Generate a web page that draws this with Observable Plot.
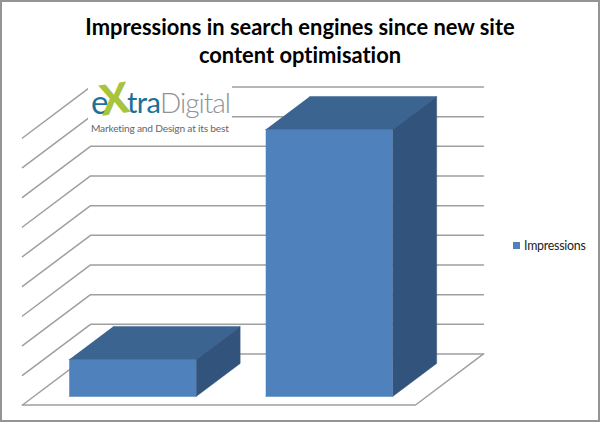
<!DOCTYPE html>
<html><head><meta charset="utf-8">
<script src="https://cdn.jsdelivr.net/npm/d3@7"></script>
<script src="https://cdn.jsdelivr.net/npm/@observablehq/plot@0.6"></script>
<style>
html,body{margin:0;padding:0;background:#fff}
#wrap{position:relative;width:600px;height:422px;outline:2px solid #949494;outline-offset:-2px;overflow:hidden;font-family:Lato,sans-serif;font-variant-ligatures:none}
h1{margin:0;height:72px;box-sizing:border-box;padding-top:13px;text-align:center;font:700 21.9px/28px Lato,sans-serif;font-variant-ligatures:none;color:#000}
svg{display:block}
#logo{position:absolute;left:88px;top:76px;width:144px;height:60px;background:#fff}
#logo span{position:absolute;white-space:nowrap;font-family:Lato,sans-serif}
#logo .s{left:3px;top:45px;font:400 10.2px/14px Lato,sans-serif;letter-spacing:-.2px;color:#666}
#legend{position:absolute;left:513px;top:237px;font:400 12.4px/17px Lato,sans-serif;letter-spacing:-.25px;color:#222;display:flex;align-items:center;gap:4px}
#legend i{display:inline-block;width:7px;height:7px;background:#4f81bd}
</style></head><body>
<div id="wrap">
<h1>Impressions in search engines since new site<br>content optimisation</h1>
<div id="chart"></div>
<div id="logo">
<span style="left:3px;top:6px;font-size:33px;line-height:38px;color:#1f6f96">e</span>
<span style="left:12px;top:-1px;font-size:42px;line-height:46px;font-weight:900;color:#a8c43c;transform:rotate(-8deg)">X</span>
<span style="left:39px;top:9px;font-size:29px;line-height:34px;letter-spacing:-.6px;color:#1f6f96">tra</span>
<span style="left:72px;top:9px;font-size:28px;line-height:34px;font-weight:300;letter-spacing:-1px;color:#8f9395">Digital</span>
<span class="s">Marketing and Design at its best</span>
</div>
<div id="legend"><i></i><span>Impressions</span></div>
</div>
<script>
const categories = [0, 1];
const impressions = [125, 900];
const gridLevels = [0, 100, 200, 300, 400, 500, 600, 700, 800, 900];
const barWidth = 0.646;
const depthNear = 0.167, depthFar = 0.814;
const depthX = 0.346, depthY = 172;          // oblique offset of the full floor depth, in data units
const proj = (x, v, d) => ({x: x + d * depthX, y: v + d * depthY});

const grid = gridLevels.flatMap(v => [
  {...proj(0, v, 0), id: v}, {...proj(0, v, 1), id: v}, {...proj(2, v, 1), id: v}
]);
const floorEdge = [proj(0, 0, 0), proj(2, 0, 0), proj(2, 0, 1)];

const front = [], top_ = [], side = [];
categories.forEach((c, i) => {
  const a = c + 0.503 - barWidth / 2, b = a + barWidth, v = impressions[i];
  const n = depthNear, f = depthFar;
  front.push(...[[a,0,n],[b,0,n],[b,v,n],[a,v,n]].map(p => ({...proj(...p), id: i})));
  top_.push(...[[a,v,n],[b,v,n],[b,v,f],[a,v,f]].map(p => ({...proj(...p), id: i})));
  side.push(...[[b,0,n],[b,0,f],[b,v,f],[b,v,n]].map(p => ({...proj(...p), id: i})));
});

const gridStyle = {x: "x", y: "y", stroke: "#9f9f9f", strokeWidth: 1.5, curve: "linear"};
const face = (rows, fill) => Plot.line(rows, {x: "x", y: "y", z: "id", fill, stroke: fill, strokeWidth: 0.5, curve: "linear"});

document.getElementById("chart").append(Plot.plot({
  width: 600, height: 350, margin: 0,
  x: {type: "linear", domain: [0, 2], range: [22, 415], axis: null},
  y: {type: "linear", domain: [0, 900], range: [332.5, 65.5], axis: null},
  marks: [
    Plot.line(grid, {...gridStyle, z: "id"}),
    Plot.line(floorEdge, gridStyle),
    face(front, "#4f81bd"),
    face(top_, "#3c6491"),
    face(side, "#32547c")
  ]
}));
</script>
</body></html>
